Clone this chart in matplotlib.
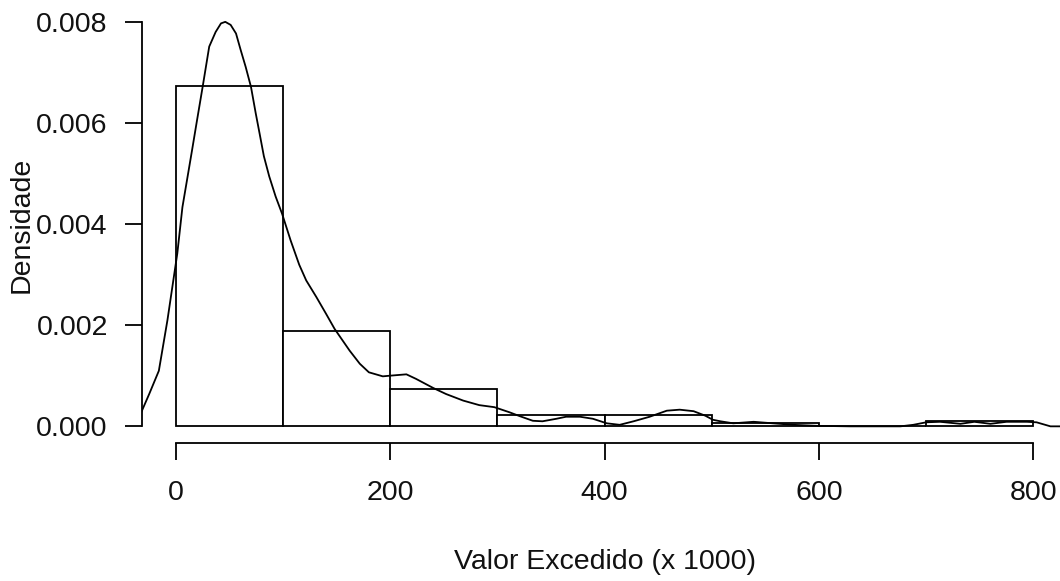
import matplotlib
matplotlib.use('Agg')
import matplotlib.pyplot as plt
import numpy as np

plt.rcParams['font.family'] = ['Liberation Sans', 'DejaVu Sans']

# histogram (density scale), class width 100
bin_edges = [0, 100, 200, 300, 400, 500, 600, 700, 800]
bin_density = [0.00674, 0.00189, 0.00074, 0.000222, 0.000222, 0.000074, 0.0, 0.000111]

# kernel density curve (y in units of 1e-3)
dens_x = [-33, -25, -16, -8, -3.4, 1.2, 6, 11.5, 15, 19.3, 25, 31, 37, 42, 46, 51, 56,
          60.4, 65, 70, 74.4, 78, 82, 87, 93, 99, 107, 115, 121.5, 131, 140, 148, 162,
          171.5, 180, 193, 198, 215, 224, 240, 252, 268, 283, 297, 311,
          321, 333, 342, 355, 364, 377, 389, 402, 414, 427, 442, 458, 470, 483, 494,
          501, 508, 520, 539, 557, 576, 598, 629, 676, 688, 700, 713, 732, 745, 760,
          775, 794, 803, 816, 835]
dens_y = [0.25, 0.64, 1.1, 2.1, 2.76, 3.42, 4.34, 5.03, 5.47, 6.02, 6.74, 7.52, 7.81,
          7.98, 8.01, 7.95, 7.78, 7.45, 7.12, 6.72, 6.2, 5.8, 5.35, 4.95, 4.55, 4.21,
          3.68, 3.2, 2.89, 2.56, 2.23, 1.93, 1.5, 1.24, 1.07, 0.99, 1.0, 1.03,
          0.94, 0.76, 0.64, 0.51, 0.42, 0.38, 0.28, 0.2, 0.11, 0.10, 0.15, 0.19, 0.19,
          0.15, 0.06, 0.03, 0.10, 0.19, 0.31, 0.33, 0.30, 0.21, 0.13, 0.10, 0.06, 0.09,
          0.06, 0.03, 0.01, 0.0, 0.0, 0.03, 0.08, 0.09, 0.05, 0.09, 0.05, 0.09, 0.09,
          0.08, 0.0, 0.0]
dens_y = [v / 1000 for v in dens_y]

x_ticks = [0, 200, 400, 600, 800]
y_ticks = [0.000, 0.002, 0.004, 0.006, 0.008]

W, H = 1060, 581
fig = plt.figure(figsize=(W / 100, H / 100), dpi=100)
# plot region in pixels (R style, 4% range extension)
left_px, right_px, top_px, bot_px = 141.7, 1067.6, 6.2, 442.5
ax = fig.add_axes([left_px / W, 1 - bot_px / H, (right_px - left_px) / W, (bot_px - top_px) / H])

lw = 1.3
widths = np.diff(bin_edges)
ax.bar(bin_edges[:-1], bin_density, width=widths, align='edge',
       facecolor='white', edgecolor='black', linewidth=lw)
ax.plot(dens_x, dens_y, color='black', linewidth=lw)

ax.set_xlim(-32, 832)
ax.set_ylim(-0.00032, 0.00832)

for s in ['top', 'right']:
    ax.spines[s].set_visible(False)
ax.spines['left'].set_bounds(0, 0.008)
ax.spines['bottom'].set_bounds(0, 800)
for s in ['left', 'bottom']:
    ax.spines[s].set_linewidth(lw)
    ax.spines[s].set_color('black')

fs = 20.5
ax.set_xticks(x_ticks)
ax.set_xticklabels([str(t) for t in x_ticks])
ax.set_yticks(y_ticks)
ax.set_yticklabels(['%.3f' % t for t in y_ticks])
ax.tick_params(axis='both', direction='out', length=12.2, width=lw, color='black',
               labelsize=fs, labelcolor='#111111')
ax.tick_params(axis='y', pad=12.2)
ax.tick_params(axis='x', pad=15)

fig.text(605 / W, 1 - 562 / H, 'Valor Excedido (x 1000)', ha='center', va='center',
         fontsize=fs, color='#111111')
fig.text(22 / W, 1 - 225 / H, 'Densidade', ha='center', va='center', rotation=90,
         fontsize=fs, color='#111111')

fig.savefig('out.png', dpi=100, facecolor='white')
